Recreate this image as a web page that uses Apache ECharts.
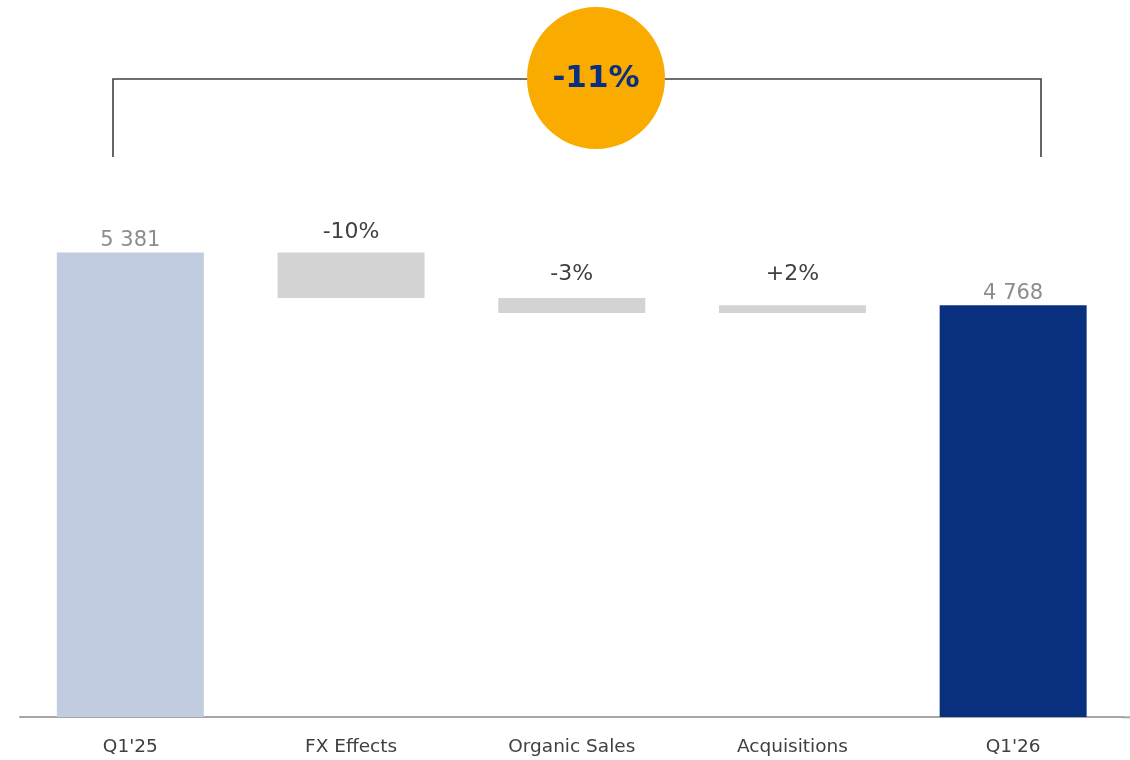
<!DOCTYPE html>
<html>
<head>
<meta charset="utf-8">
<title>Sales bridge Q1'25 to Q1'26</title>
<script src="https://cdn.jsdelivr.net/npm/echarts@6/dist/echarts.min.js"></script>
<style>
  html, body { margin: 0; padding: 0; background: #ffffff; }
  #chart { width: 1130px; height: 760px; }
</style>
</head>
<body>
<div id="chart"></div>
<script>
// Bridge categories, start/end totals and the steps between them
const categories = ["Q1'25", "FX Effects", "Organic Sales", "Acquisitions", "Q1'26"];
const openingValue = 5381;
const closingValue = 4768;
const bridgeDeltas = [-528, -174, 89];

// Running levels: each step floats between the level before and after it
const baseValues = [0];
const barValues = [openingValue];
let level = openingValue;
bridgeDeltas.forEach(function (d) {
  const next = level + d;
  baseValues.push(Math.min(level, next));
  barValues.push(Math.abs(d));
  level = next;
});
baseValues.push(0);
barValues.push(closingValue);

const fmtTotal = function (v) {
  return String(v).replace(/\B(?=(\d{3})+(?!\d))/g, ' ');
};
const fmtPct = function (v) {
  const p = Math.round(v / openingValue * 100);
  return (p > 0 ? '+' : '') + p + '%';
};
const totalChangeText = fmtPct(closingValue - openingValue);

const FONT = 'DejaVu Sans, Verdana, sans-serif';
const barColors = ['#C1CCE0', '#D3D3D3', '#D3D3D3', '#D3D3D3', '#08307E'];
const stepLabelGap = [0, 9, 13, 20, 0];

const visibleData = barValues.map(function (v, i) {
  const isTotal = (i === 0 || i === barValues.length - 1);
  return {
    value: v,
    itemStyle: { color: barColors[i] },
    label: isTotal ? {
      show: true,
      position: 'top',
      distance: 1,
      fontFamily: FONT,
      fontSize: 21,
      color: '#8C8C8C',
      formatter: fmtTotal(v)
    } : {
      show: true,
      position: 'top',
      distance: stepLabelGap[i],
      fontFamily: FONT,
      fontSize: 22,
      color: '#404040',
      formatter: fmtPct(bridgeDeltas[i - 1])
    }
  };
});

const chart = echarts.init(document.getElementById('chart'), null, { renderer: 'canvas' });

chart.setOption({
  animation: false,
  backgroundColor: '#ffffff',
  grid: { left: 20, right: 6.5, top: 199, bottom: 43 },
  xAxis: {
    type: 'category',
    data: categories,
    axisLine: { show: true, lineStyle: { color: '#A6A6A6', width: 2 } },
    axisTick: { show: false },
    axisLabel: {
      margin: 21,
      fontFamily: FONT,
      fontSize: 18.5,
      color: '#404040'
    }
  },
  yAxis: {
    type: 'value',
    min: 0,
    max: 6000,
    show: false,
    splitLine: { show: false }
  },
  series: [
    {
      name: 'base',
      type: 'bar',
      stack: 'bridge',
      barWidth: 147,
      silent: true,
      itemStyle: { color: 'rgba(0,0,0,0)' },
      data: baseValues
    },
    {
      name: 'value',
      type: 'bar',
      stack: 'bridge',
      barWidth: 147,
      data: visibleData
    }
  ],
  graphic: [
    {
      type: 'line',
      z: 5,
      shape: { x1: 1122, y1: 717.3, x2: 1130, y2: 717.3 },
      style: { stroke: '#A6A6A6', lineWidth: 2 }
    },
    {
      type: 'polyline',
      z: 10,
      shape: { points: [[113, 157], [113, 79], [1041, 79], [1041, 157]] },
      style: { stroke: '#404040', lineWidth: 1.6, fill: null }
    },
    {
      type: 'ellipse',
      z: 20,
      shape: { cx: 596, cy: 78, rx: 69, ry: 71 },
      style: { fill: '#F9AB00' }
    },
    {
      type: 'text',
      z: 30,
      x: 596,
      y: 79,
      style: {
        text: totalChangeText,
        fontFamily: FONT,
        fontWeight: 'bold',
        fontSize: 31,
        fill: '#0A2F7F',
        align: 'center',
        verticalAlign: 'middle'
      }
    }
  ]
});
</script>
</body>
</html>
